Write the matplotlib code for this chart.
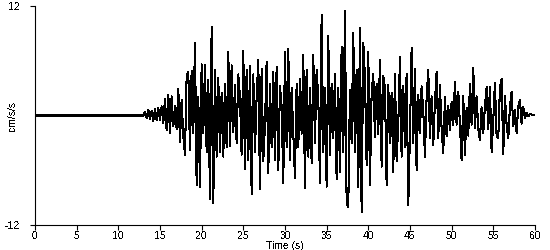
import numpy as np
import matplotlib
matplotlib.use("Agg")
import matplotlib.pyplot as plt

# ---- data ----
pre_event_time = [0.0, 13.0]
pre_event_accel = [0.0, 0.0]

record_start = 13.0
sample_dt = 0.2  # seconds between samples

accel = [
    0.0, 0.4, -0.3, 0.6, -0.4,       # 13 s
    0.5, -0.6, 0.7, -0.5, 0.8,       # 14 s
    -0.5, 1.0, -0.8, 1.8, -1.6,      # 15 s
    2.3, -1.9, 2.1, -1.2, 1.0,       # 16 s
    -1.5, 2.9, -2.9, 1.7, -2.3,      # 17 s
    -4.3, 4.3, 4.8, -3.8, 4.9,       # 18 s
    -1.9, 8.0, -7.6, 2.0, -7.8,      # 19 s
    5.6, -1.9, 5.5, -4.0, 3.9,       # 20 s
    -9.2, 9.7, -9.6, 5.0, -4.5,      # 21 s
    4.1, -4.0, 2.5, -4.5, 3.5,       # 22 s
    -3.5, 7.0, -3.4, 5.5, -1.8,      # 23 s
    3.3, -3.0, 4.5, 2.0, -4.3,       # 24 s
    7.1, -5.9, 5.0, -4.9, 5.4,       # 25 s
    -8.6, 4.5, -4.0, 2.0, 6.1,       # 26 s
    -8.1, 5.1, -5.0, -1.0, 5.9,      # 27 s
    -6.3, 3.5, -3.5, 4.8, -4.9,      # 28 s
    5.3, -6.0, 3.2, 1.0, -7.4,       # 29 s
    7.0, -3.5, 7.3, -4.9, 3.0,       # 30 s
    -2.0, -6.9, 3.5, -3.5, 4.0,      # 31 s
    -2.0, 6.6, -8.0, 5.0, -4.5,      # 32 s
    3.0, -5.2, 6.6, -3.0, 5.0,       # 33 s
    2.0, -7.4, 11.0, -4.0, 3.0,      # 34 s
    -7.8, 8.7, -4.3, 3.5, -2.5,      # 35 s
    4.5, -7.0, 3.0, -6.2, 7.5,       # 36 s
    -4.0, 11.5, -9.6, -10.0, 2.8,    # 37 s
    -3.0, 9.0, -4.0, 5.0, -7.8,      # 38 s
    9.6, -10.6, 8.0, 4.2, -5.4,      # 39 s
    7.0, -7.6, 2.4, 4.6, -2.4,       # 40 s
    3.5, -2.0, 6.1, -5.6, 4.3,       # 41 s
    3.0, -7.6, 3.3, -3.0, 2.5,       # 42 s
    -6.2, 4.6, -5.0, -1.0, 6.4,      # 43 s
    -4.5, 3.2, -3.5, 4.6, -9.8,      # 44 s
    -2.0, 7.4, -3.0, 5.1, -6.0,      # 45 s
    2.3, -1.9, 3.2, 0.5, -4.5,       # 46 s
    2.0, 5.0, -2.5, 2.1, -3.2,       # 47 s
    1.5, 4.8, -2.5, 3.3, -1.5,       # 48 s
    -4.1, 2.0, -2.3, 1.0, -1.6,      # 49 s
    1.5, -1.0, 3.7, -1.0, 2.6,       # 50 s
    -1.0, -4.9, 2.1, -4.3, 0.8,      # 51 s
    -2.2, 3.5, -1.0, 5.2, -1.4,      # 52 s
    2.1, -1.5, -2.7, 0.9, -1.9,      # 53 s
    1.0, 3.1, -1.5, 3.1, -4.0,       # 54 s
    -0.5, 3.6, -2.3, -2.5, 3.1,      # 55 s
    4.0, -4.2, 2.1, -1.0, -2.5,      # 56 s
    1.0, 2.6, -1.2, 0.6, -1.9,       # 57 s
    1.0, 1.7, -0.9, 0.9, -0.3,       # 58 s
    0.3, -0.1, 0.2, 0.1, 0.1,        # 59 s
    0.1,                             # 60 s
]

x_ticks = [0, 5, 10, 15, 20, 25, 30, 35, 40, 45, 50, 55, 60]
y_ticks = [-12, 12]
x_label = "Time (s)"
y_label = "cm/s/s"

# ---- plot ----
plt.rcParams['font.family'] = ['Liberation Sans', 'DejaVu Sans']
plt.rcParams['text.antialiased'] = False

t_record = record_start + sample_dt * np.arange(len(accel))
time = np.concatenate([pre_event_time, t_record])
values = np.concatenate([pre_event_accel, accel])

fig = plt.figure(figsize=(5.5, 2.5), dpi=100)
ax = fig.add_axes([0.0636, 0.1, 0.909, 0.876])

ax.plot(time, values, color='black', lw=0.75, antialiased=False)

ax.set_xlim(0, 60)
ax.set_ylim(-12, 12)
ax.set_xticks(x_ticks)
ax.set_yticks(y_ticks)
ax.set_xticklabels([str(v) for v in x_ticks])
ax.set_yticklabels([str(v) for v in y_ticks])

for s in ['top', 'right']:
    ax.spines[s].set_visible(False)
for s in ['left', 'bottom']:
    ax.spines[s].set_linewidth(0.8)
    ax.spines[s].set_color('black')

ax.tick_params(axis='x', direction='out', length=3.6, width=0.8, pad=1,
               labelsize=7.5, colors='black')
ax.tick_params(axis='y', direction='out', length=3.6, width=0.8, pad=7,
               labelsize=7.5, colors='black')

ax.set_xlabel(x_label, fontsize=7.5, labelpad=0)
ax.set_ylabel(y_label, fontsize=7.5)
ax.yaxis.set_label_coords(-0.034, 0.5)

fig.savefig("out.png", dpi=100)
